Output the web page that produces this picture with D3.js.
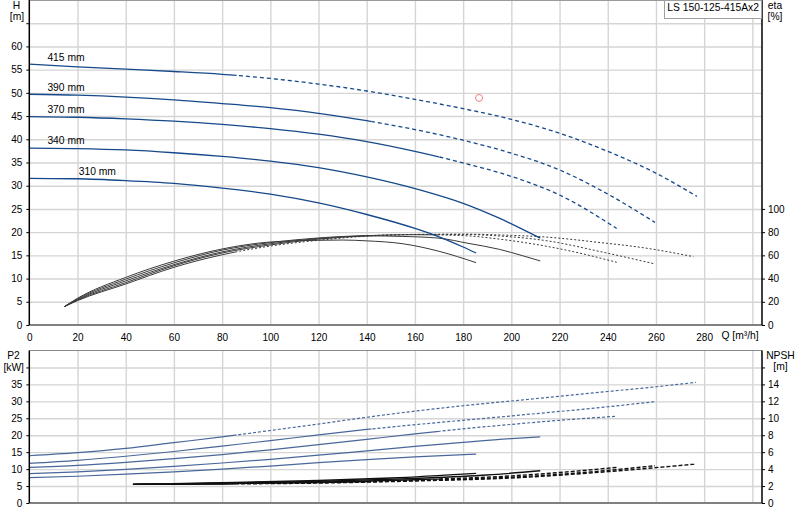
<!DOCTYPE html>
<html>
<head>
<meta charset="utf-8">
<script src="https://d3js.org/d3.v7.min.js"></script>
<style>
  body { margin: 0; background: #fff; }
  svg { font-family: "Liberation Sans", Arial, sans-serif; font-size: 10.3px; }
  .grid line { stroke: #d5d5d5; stroke-width: 1.4; }
  .grid path { display: none; }
  .axis path, .axis line { stroke: #000; }
  .axis text { fill: #000; }
</style>
</head>
<body>
<script>
// values, pairs of [Q m³/h, value]
const diameters = ["415 mm", "390 mm", "370 mm", "340 mm", "310 mm"];
const dashFrom = [86, 142, 170, null, null];   // Q where solid turns to dashed

const head415 = [[0,56.2],[20,55.6],[40,55.1],[60,54.6],[80,54.0],[100,53.1],[120,51.9],[140,50.4],[160,48.6],[180,46.6],[200,44.3],[220,41.3],[240,37.4],[260,32.7],[277,27.7]];
const head390 = [[0,49.7],[20,49.5],[40,49.1],[60,48.5],[80,47.7],[100,46.8],[120,45.6],[140,44.0],[160,42.1],[180,39.8],[200,37.0],[220,33.4],[240,28.2],[259.6,22.1]];
const head370 = [[0,44.9],[20,44.75],[40,44.4],[60,43.9],[80,43.2],[100,42.3],[120,41.1],[140,39.5],[160,37.4],[180,34.9],[200,32.0],[220,28.0],[243.7,20.8]];
const head340 = [[0,38.1],[20,38.0],[40,37.7],[60,37.1],[80,36.3],[100,35.3],[120,33.9],[140,31.9],[162,29.1],[180,26.2],[195,23.0],[212,18.7]];
const head310 = [[0,31.6],[20,31.5],[40,31.1],[60,30.5],[80,29.5],[100,28.2],[120,26.3],[140,23.8],[160,20.8],[170,19.0],[180,16.8],[185.4,15.5]];

const eta415 = [[14.5,15.8],[20,21],[40,35.3],[60,49.7],[80,60.5],[100,68],[120,73],[140,76.5],[160,78],[180,78.3],[200,77.2],[212,76.1],[237,71],[255,66.5],[275.5,58.9]];
const eta390 = [[14.5,15.8],[20,21.5],[40,36.5],[60,51],[80,62],[100,69],[120,74],[140,76.8],[160,78],[180,78],[195,76.7],[215,72.5],[237,63.2],[259.6,52.6]];
const eta370 = [[14.5,15.8],[20,22],[40,38],[60,52],[80,63],[100,70],[120,74.5],[140,77],[160,77.8],[180,77],[195,74],[210,69.5],[225,63.5],[243.7,54]];
const eta340 = [[14.5,15.8],[20,22.5],[40,39.5],[60,53.5],[80,64.5],[100,71],[120,75],[140,76.8],[155,76.3],[170,74.8],[182,70.4],[195,65.2],[205,59.5],[212,55.2]];
const eta310 = [[14.5,15.8],[20,23],[40,41],[60,55],[80,65.5],[100,71.5],[120,73],[130,73.2],[140,72.5],[155,70],[170,63.5],[185.4,53.7]];

const p2_415 = [[0,13.95],[20,14.85],[40,16.1],[60,17.8],[80,19.5],[100,21.4],[120,23.3],[140,25.3],[160,27.1],[180,28.7],[200,30.1],[220,31.5],[240,32.9],[260,34.3],[276.6,35.6]];
const p2_390 = [[0,11.7],[20,12.6],[40,13.8],[60,15.2],[80,16.8],[100,18.4],[120,20.1],[140,21.7],[160,23.1],[200,25.7],[240,28.4],[259.6,29.9]];
const p2_370 = [[0,10.5],[20,11.1],[40,12.0],[60,13.1],[80,14.3],[100,15.7],[120,17.2],[140,18.8],[160,20.4],[180,21.9],[200,23.2],[220,24.4],[243.7,25.6]];
const p2_340 = [[0,8.65],[20,9.2],[40,9.9],[60,10.8],[80,11.8],[100,12.9],[120,14.1],[140,15.4],[160,16.7],[180,17.9],[200,19.0],[212,19.5]];
const p2_310 = [[0,7.5],[20,7.9],[40,8.5],[60,9.2],[80,10.0],[100,10.9],[120,11.9],[140,12.8],[160,13.6],[185.4,14.4]];

const npsh415 = [[43,2.2],[80,2.25],[120,2.35],[160,2.6],[200,2.95],[240,3.7],[276.6,4.6]];
const npsh390 = [[43,2.2],[80,2.3],[120,2.4],[160,2.65],[200,3.05],[230,3.6],[259.6,4.4]];
const npsh370 = [[43,2.2],[80,2.3],[120,2.45],[160,2.75],[200,3.2],[220,3.6],[243.7,4.2]];
const npsh340 = [[43,2.2],[80,2.35],[120,2.55],[160,2.9],[190,3.3],[212,3.8]];
const npsh310 = [[43,2.2],[80,2.4],[120,2.65],[150,2.95],[185.4,3.5]];

const dutyPoint = [186.6, 48.9];
const pumpName = "LS 150-125-415Ax2";
const qTicks = d3.range(0, 281, 20);
const etaTicks = d3.range(0, 101, 20);

const heads = [head415, head390, head370, head340, head310];
const etas = [eta415, eta390, eta370, eta340, eta310];
const p2s = [p2_415, p2_390, p2_370, p2_340, p2_310];
const npshs = [npsh415, npsh390, npsh370, npsh340, npsh310];

// layout
const L = 29.3, R = 762;
const topT = 0, topB = 325;
const botT = 350.5, botB = 503;

const x = d3.scaleLinear().domain([0, 304]).range([L, R]);
const yH = d3.scaleLinear().domain([0, 70]).range([topB, topT]);
const yEta = d3.scaleLinear().domain([0, 280]).range([topB, topT]);
const yP2 = d3.scaleLinear().domain([0, 45]).range([botB, botT]);
const yNpsh = d3.scaleLinear().domain([0, 18]).range([botB, botT]);

const svg = d3.select("body").append("svg")
    .attr("width", 800)
    .attr("height", 520);

// clip paths splitting solid / dashed parts
const defs = svg.append("defs");
dashFrom.forEach((q, i) => {
    if (q == null) return;
    defs.append("clipPath").attr("id", "solid" + i)
        .append("rect").attr("x", 0).attr("y", 0).attr("width", x(q)).attr("height", 520);
    defs.append("clipPath").attr("id", "dash" + i)
        .append("rect").attr("x", x(q)).attr("y", 0).attr("width", 800 - x(q)).attr("height", 520);
});

// grids
svg.append("g").attr("class", "grid")
    .attr("transform", `translate(0,${topB})`)
    .call(d3.axisBottom(x).tickValues(d3.range(20, 301, 20)).tickSize(-(topB - topT)).tickFormat(""));
svg.append("g").attr("class", "grid")
    .attr("transform", `translate(${L},0)`)
    .call(d3.axisLeft(yH).tickValues(d3.range(5, 66, 5)).tickSize(-(R - L)).tickFormat(""));
svg.append("g").attr("class", "grid")
    .attr("transform", `translate(0,${botB})`)
    .call(d3.axisBottom(x).tickValues(d3.range(20, 301, 20)).tickSize(-(botB - botT)).tickFormat(""));
svg.append("g").attr("class", "grid")
    .attr("transform", `translate(${L},0)`)
    .call(d3.axisLeft(yP2).tickValues(d3.range(5, 41, 5)).tickSize(-(R - L)).tickFormat(""));

// frame lines
svg.append("line").attr("x1", L).attr("x2", R).attr("y1", 0.5).attr("y2", 0.5).attr("stroke", "#9a9a9a");
svg.append("line").attr("x1", L).attr("x2", R).attr("y1", botT).attr("y2", botT).attr("stroke", "#8a8a8a");
svg.append("line").attr("x1", L).attr("x2", R).attr("y1", topB).attr("y2", topB).attr("stroke", "#808080").attr("stroke-width", 2);
svg.append("line").attr("x1", L).attr("x2", R).attr("y1", botB).attr("y2", botB).attr("stroke", "#808080").attr("stroke-width", 2);

function drawSplit(g, pts, ys, i, color, width, dash) {
    const line = d3.line().x(d => x(d[0])).y(d => ys(d[1])).curve(d3.curveMonotoneX);
    const solid = g.append("path").datum(pts)
        .attr("d", line).attr("fill", "none")
        .attr("stroke", color).attr("stroke-width", width);
    if (dashFrom[i] == null) return;
    solid.attr("clip-path", `url(#solid${i})`);
    g.append("path").datum(pts)
        .attr("d", line).attr("fill", "none")
        .attr("stroke", color).attr("stroke-width", width)
        .attr("stroke-dasharray", dash)
        .attr("clip-path", `url(#dash${i})`);
}

const curves = svg.append("g");
etas.forEach((c, i) => drawSplit(curves, c, yEta, i, "#3a3a3a", 1, "2,2"));
heads.forEach((c, i) => drawSplit(curves, c, yH, i, "#15498a", 1.3, "4,3"));
p2s.forEach((c, i) => drawSplit(curves, c, yP2, i, "#49679a", 1.2, "3,2"));
npshs.forEach((c, i) => drawSplit(curves, c, yNpsh, i, "#111", 1.4, "4,2"));

// diameter labels
const labelQ = [7.5, 7.5, 7.5, 7.5, 20.5];
heads.forEach((c, i) => {
    const hAt = d3.scaleLinear().domain(c.map(d => d[0])).range(c.map(d => d[1]));
    svg.append("text")
        .attr("x", x(labelQ[i]))
        .attr("y", yH(hAt(labelQ[i])) - 4)
        .text(diameters[i]);
});

// duty point
svg.append("circle")
    .attr("cx", x(dutyPoint[0])).attr("cy", yH(dutyPoint[1]))
    .attr("r", 3.5).attr("fill", "none").attr("stroke", "#f08080").attr("stroke-width", 1);

// axes
svg.append("g").attr("class", "axis")
    .attr("transform", `translate(${L},0)`)
    .call(d3.axisLeft(yH).tickValues(d3.range(0, 66, 5)).tickSize(3).tickPadding(4)
        .tickFormat(d => d <= 60 ? d : ""))
    .call(g => g.select(".domain").attr("d", `M0,${topT}V${topB}`).attr("stroke-width", 1.5));

svg.append("g").attr("class", "axis")
    .attr("transform", `translate(${R},0)`)
    .call(d3.axisRight(yEta).tickValues(etaTicks).tickSize(3).tickPadding(3))
    .call(g => g.select(".domain").attr("d", `M0,${topT}V${topB}`).attr("stroke-width", 1.5));

svg.append("g").attr("class", "axis")
    .attr("transform", `translate(0,${topB})`)
    .call(d3.axisBottom(x).tickValues(qTicks).tickSize(0).tickPadding(9))
    .call(g => g.select(".domain").remove());

svg.append("g").attr("class", "axis")
    .attr("transform", `translate(${L},0)`)
    .call(d3.axisLeft(yP2).tickValues(d3.range(0, 41, 5)).tickSize(3).tickPadding(4)
        .tickFormat(d => d <= 35 ? d : ""))
    .call(g => g.select(".domain").attr("d", `M0,${botT}V${botB}`).attr("stroke-width", 1.5));

svg.append("g").attr("class", "axis")
    .attr("transform", `translate(${R},0)`)
    .call(d3.axisRight(yNpsh).tickValues(d3.range(0, 17, 2)).tickSize(3).tickPadding(3)
        .tickFormat(d => d <= 14 ? d : ""))
    .call(g => g.select(".domain").attr("d", `M0,${botT}V${botB}`).attr("stroke-width", 1.5));

// axis titles
const titles = [
    ["H", 16.5, 8.6], ["[m]", 17, 20.3],
    ["eta", 775, 8.6], ["[%]", 775, 20.3],
    ["P2", 13.5, 358.6], ["[kW]", 13.7, 370.9],
    ["NPSH", 780.5, 358.6], ["[m]", 780.5, 370.3]
];
titles.forEach(t => {
    svg.append("text").attr("x", t[1]).attr("y", t[2])
        .attr("text-anchor", "middle").text(t[0]);
});
svg.append("text").attr("x", 721.5).attr("y", 338.8).text("Q [m³/h]");

// pump name box
svg.append("rect").attr("x", 664.5).attr("y", 0.5).attr("width", 97).attr("height", 18)
    .attr("fill", "#fff").attr("stroke", "#a0a0a0");
svg.append("text").attr("x", 667.3).attr("y", 11.2).text(pumpName);
</script>
</body>
</html>
